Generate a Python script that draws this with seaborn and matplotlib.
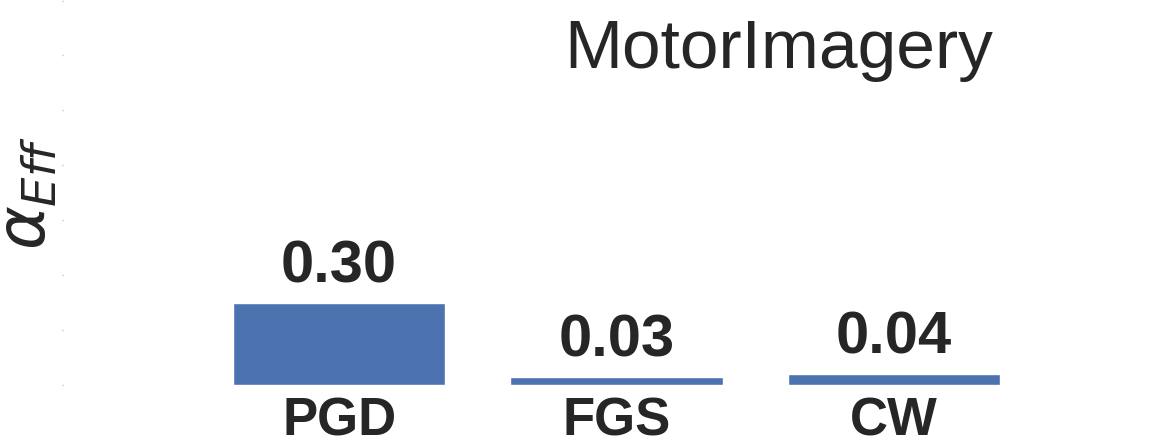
import matplotlib
matplotlib.use("Agg")
import matplotlib.pyplot as plt
import seaborn as sns

# data
attacks = ["PGD", "FGS", "CW"]
alpha_eff = [0.298, 0.029, 0.039]
y_ticks = [0.0, 0.2, 0.4, 0.6, 0.8, 1.0, 1.2, 1.4]

sns.set_theme(style="white")
plt.rcParams["font.family"] = ["Liberation Sans", "DejaVu Sans"]
plt.rcParams["mathtext.fontset"] = "dejavusans"

W, H = 1159, 446
fig = plt.figure(figsize=(W / 100, H / 100), dpi=100)
ax = fig.add_axes([63 / W, 1 - 385 / H, (W - 63) / W, 385 / H - 0.5 / H])

sns.barplot(x=attacks, y=alpha_eff, color="#4c72b0", saturation=1,
            width=0.765, ax=ax)
ax.bar_label(ax.containers[0], fmt="%.2f", fontsize=43, fontweight="bold",
             color="#262626", padding=6.5)

ax.set_xlim(-0.995, 2.955)
ax.set_ylim(0, 1.4)
ax.set_yticks(y_ticks)
ax.tick_params(axis="y", left=True, length=1, width=1, color="0.7",
               labelleft=False)
ax.tick_params(axis="x", bottom=False, length=0, pad=8.5)
for lab in ax.get_xticklabels():
    lab.set_fontsize(38)
    lab.set_fontweight("bold")
    lab.set_color("#262626")

ax.set_xlabel("")
ax.set_ylabel(r"$\alpha_{Eff}$", fontsize=48, color="#262626")
ax.yaxis.set_label_coords(-3 / (W - 63), 0.5)

ax.set_title("MotorImagery", fontsize=50, color="#262626", pad=0,
             x=(779 - 63) / (W - 63), y=1 - 68 / 385, va="baseline")

sns.despine(ax=ax, left=True, bottom=True)

fig.savefig("out.png", dpi=100)
